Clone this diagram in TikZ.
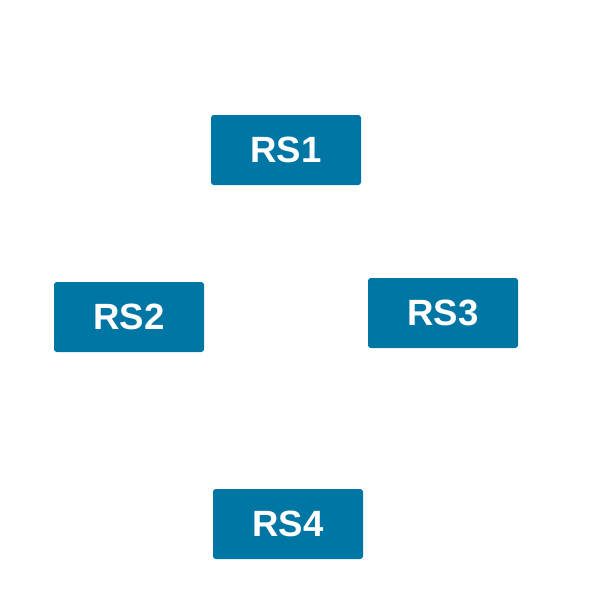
\documentclass[tikz,border=0pt]{standalone}
\usepackage{fontspec}
\setmainfont{Liberation Sans}
\usetikzlibrary{positioning}
\definecolor{rsblue}{RGB}{0,118,164}

\begin{document}
\begin{tikzpicture}[
  rsbox/.style={fill=rsblue,rounded corners=2pt,align=center,minimum width=3.75cm,minimum height=1.75cm,text=white,font=\fontsize{26}{30}\selectfont\bfseries}]
\useasboundingbox (0,0) rectangle (15,-15);
\node[rsbox] (rs1) at (7.15,-3.75) {RS1};
\node[rsbox] (rs2) at (3.225,-7.925) {RS2};
\node[rsbox] (rs3) at (11.075,-7.825) {RS3};
\node[rsbox] (rs4) at (7.2,-13.1) {RS4};
\end{tikzpicture}
\end{document}
